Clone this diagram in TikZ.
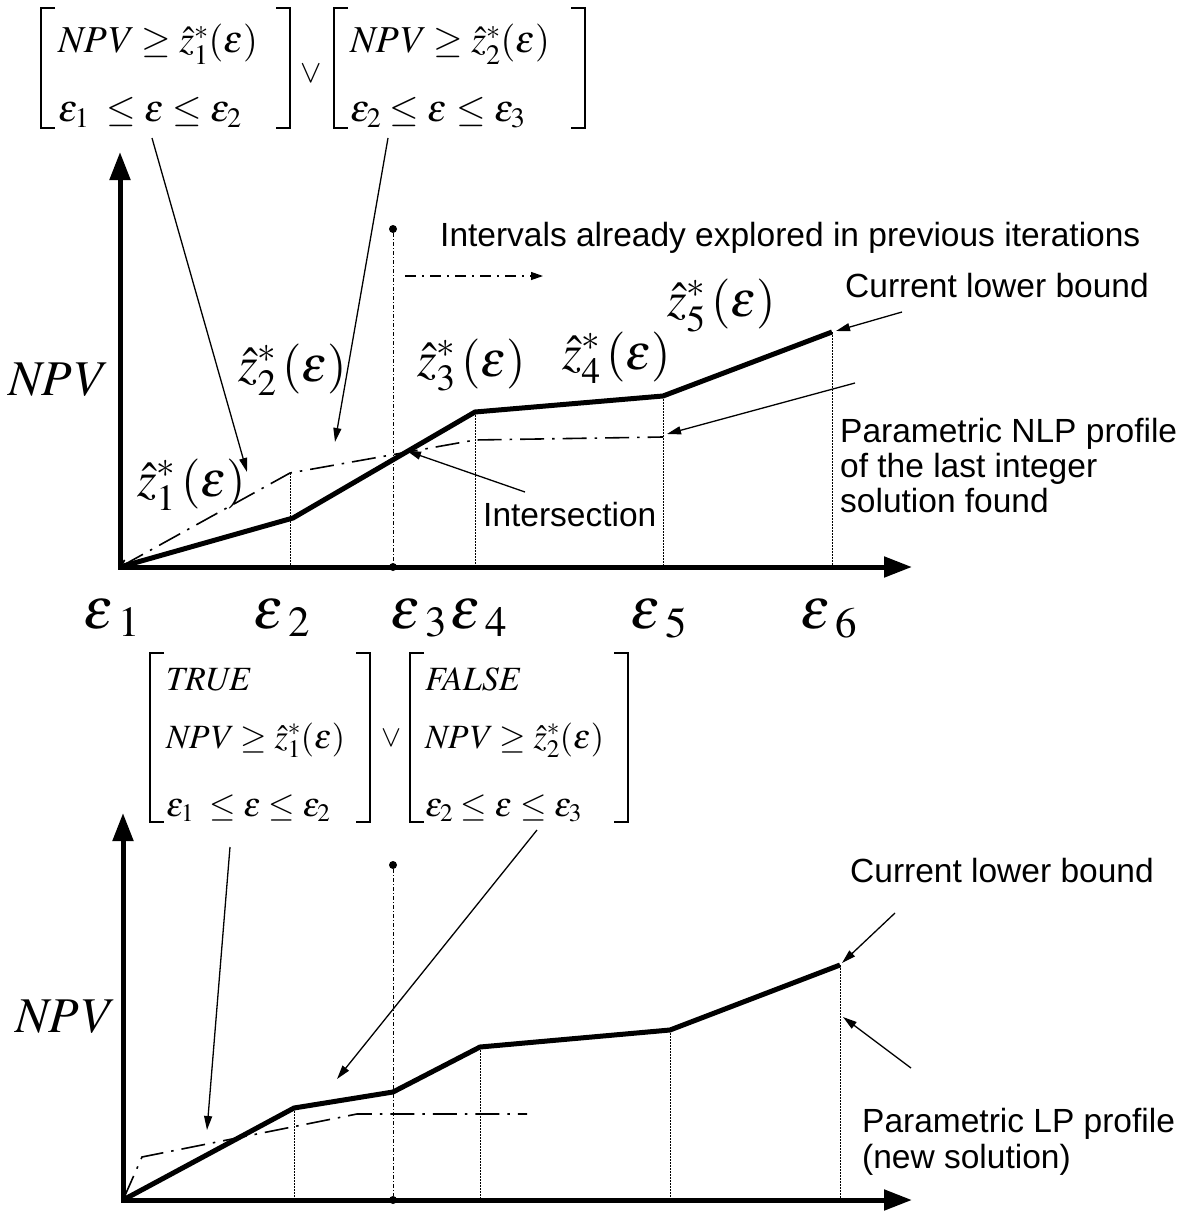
\documentclass[tikz,border=0pt]{standalone}
\usepackage{mathptmx}
\usepackage[no-math]{fontspec}
\newfontfamily\notefont{Liberation Sans}
\usetikzlibrary{arrows.meta}

\begin{document}
\begin{tikzpicture}[x=1pt,y=-1pt,line join=miter,
	axis/.style={line width=5pt,{Triangle[length=28pt,width=20pt]}-{Triangle[length=28pt,width=20pt]}},
	bound/.style={line width=5pt},
	profile/.style={line width=1.6pt,dash pattern=on 24pt off 8pt on 2.5pt off 8pt},
	guide/.style={line width=1pt,dash pattern=on 1.5pt off 1.5pt},
	split/.style={line width=1pt,dash pattern=on 4pt off 2pt on 1pt off 2pt},
	pointer/.style={line width=1.3pt,-{Triangle[length=14pt,width=8pt]}},
	brk/.style={line width=2.5pt},
	dot/.style={circle,fill=black,minimum size=8pt,inner sep=0pt},
	note/.style={font=\notefont\fontsize{33.5}{36}\selectfont,anchor=base west,inner sep=0pt},
	zlab/.style={font=\fontsize{50}{56}\selectfont,anchor=base west,inner sep=0pt},
	elab/.style={font=\fontsize{58}{62}\selectfont,anchor=base west,inner sep=0pt},
	cond/.style={font=\fontsize{38}{42}\selectfont,anchor=base west,inner sep=0pt},
	condsm/.style={font=\fontsize{34}{38}\selectfont,anchor=base west,inner sep=0pt}]
	\useasboundingbox (0,0) rectangle (1191,1212);

	% upper picture
	\draw[brk] (55,8)  -| (41,128)  -- (55,128);
	\draw[brk] (276,8) -| (290,128) -- (276,128);
	\draw[brk] (348,8) -| (334,128) -- (348,128);
	\draw[brk] (571,8) -| (585,128) -- (571,128);
	\path (58,53)  node[cond] (c1a) {$\mathit{NPV}\geq\hat{z}^{*}_{1}(\varepsilon)$};
	\path (58,122) node[cond] (c1b) {$\varepsilon_{1}\;\leq\varepsilon\leq\varepsilon_{2}$};
	\path (350,53)  node[cond] (c2a) {$\mathit{NPV}\geq\hat{z}^{*}_{2}(\varepsilon)$};
	\path (350,122) node[cond] (c2b) {$\varepsilon_{2}\leq\varepsilon\leq\varepsilon_{3}$};
	\path (311,74) node[font=\fontsize{32}{34}\selectfont] (or1) {$\vee$};

	\path (120,567) coordinate (o1) (120,152) coordinate (y1) (912,567) coordinate (x1);
	\draw[axis] (y1) -- (o1) -- (x1);
	\draw[profile,{Straight Barb[length=6pt,width=8pt]}-] (o1) -- (290,473) coordinate (p12) -- (475,440) coordinate (p14) -- (663,437) coordinate (p15);
	\draw[bound] (o1) -- (293,518) coordinate (l12) -- (475,412) coordinate (l14) -- (663,396) coordinate (l15) -- (832,332) coordinate (l16);
	\draw[guide] (p12) -- (p12 |- o1);
	\draw[guide] (l14) -- (l14 |- o1);
	\draw[guide] (l15) -- (l15 |- o1);
	\draw[guide] (l16) -- (l16 |- o1);
	\path (393,229) node[dot] (s1t) {} (393,567) node[dot] (s1b) {};
	\draw[split] (s1t) -- (s1b);
	\path (407,451) coordinate (ix);

	\path (8,395)   node[zlab] (npv1) {$\mathit{NPV}$};
	\path (137,496) node[zlab] (z1) {$\hat{z}^{*}_{1}\,(\varepsilon)$};
	\path (238,381) node[zlab] (z2) {$\hat{z}^{*}_{2}\,(\varepsilon)$};
	\path (417,376) node[zlab] (z3) {$\hat{z}^{*}_{3}\,(\varepsilon)$};
	\path (562,369) node[zlab] (z4) {$\hat{z}^{*}_{4}\,(\varepsilon)$};
	\path (667,316) node[zlab] (z5) {$\hat{z}^{*}_{5}\,(\varepsilon)$};
	\path (83,628)  node[elab] (e1) {$\varepsilon_{\;1}$};
	\path (253,628) node[elab] (e2) {$\varepsilon_{\;2}$};
	\path (390,628) node[elab] (e3) {$\varepsilon_{\;3}$};
	\path (450,628) node[elab] (e4) {$\varepsilon_{\;4}$};
	\path (630,628) node[elab] (e5) {$\varepsilon_{\;5}$};
	\path (800,628) node[elab] (e6) {$\varepsilon_{\;6}$};

	\path (440,246) node[note] (intv) {Intervals already explored in previous iterations};
	\path (845,297) node[note] (lb1)  {Current lower bound};
	\path (840,442) node[note] (nlp1) {Parametric NLP profile};
	\path (840,477) node[note] (nlp2) {of the last integer};
	\path (840,512) node[note] (nlp3) {solution found};
	\path (483,526) node[note] (ixt)  {Intersection};

	\path (405,276) coordinate (iv1) (543,276) coordinate (iv2);
	\draw[line width=1.2pt,dash pattern=on 11pt off 6pt on 2pt off 6pt,-{Triangle[length=12pt,width=8pt]}] (iv1) -- (iv2);
	\path (152,138) coordinate (a1) (388,138) coordinate (a2) (525,492) coordinate (a3) (902,312) coordinate (a4) (855,383) coordinate (a5);
	\path (247,472) coordinate (t1) (335,442) coordinate (t2) (836,331) coordinate (t4) (667,434) coordinate (t5);
	\draw[pointer] (a1) -- (t1);
	\draw[pointer] (a2) -- (t2);
	\draw[pointer] (a3) -- (ix);
	\draw[pointer] (a4) -- (t4);
	\draw[pointer] (a5) -- (t5);

	% lower picture
	\draw[brk] (164,653) -| (150,822) -- (164,822);
	\draw[brk] (356,653) -| (370,822) -- (356,822);
	\draw[brk] (424,653) -| (410,822) -- (424,822);
	\draw[brk] (614,653) -| (628,822) -- (614,822);
	\path (166,690) node[condsm] (d1a) {$\mathit{TRUE}$};
	\path (166,748) node[condsm] (d1b) {$\mathit{NPV}\geq\hat{z}^{*}_{1}(\varepsilon)$};
	\path (166,816) node[condsm] (d1c) {$\varepsilon_{1}\;\leq\varepsilon\leq\varepsilon_{2}$};
	\path (425,690) node[condsm] (d2a) {$\mathit{FALSE}$};
	\path (425,748) node[condsm] (d2b) {$\mathit{NPV}\geq\hat{z}^{*}_{2}(\varepsilon)$};
	\path (425,816) node[condsm] (d2c) {$\varepsilon_{2}\leq\varepsilon\leq\varepsilon_{3}$};
	\path (391,738) node[font=\fontsize{30}{32}\selectfont] (or2) {$\vee$};

	\path (123,1200) coordinate (o2) (123,813) coordinate (y2) (912,1200) coordinate (x2);
	\draw[axis] (y2) -- (o2) -- (x2);
	\draw[profile,{Straight Barb[length=6pt,width=8pt]}-] (o2) -- (142,1157) -- (357,1114) coordinate (q13) -- (527,1114) coordinate (q14);
	\draw[bound] (o2) -- (294,1108) coordinate (m12) -- (393,1092) coordinate (m13) -- (480,1047) coordinate (m14) -- (670,1030) coordinate (m15) -- (840,965) coordinate (m16);
	\draw[guide] (m12) -- (m12 |- o2);
	\draw[guide] (m14) -- (m14 |- o2);
	\draw[guide] (m15) -- (m15 |- o2);
	\draw[guide] (m16) -- (m16 |- o2);
	\path (393,865) node[dot] (s2t) {} (393,1200) node[dot] (s2b) {};
	\draw[split] (s2t) -- (s2b);

	\path (15,1032) node[zlab] (npv2) {$\mathit{NPV}$};
	\path (850,882)  node[note] (lb2) {Current lower bound};
	\path (862,1132) node[note] (lp1) {Parametric LP profile};
	\path (862,1168) node[note] (lp2) {(new solution)};

	\path (230,847) coordinate (b1) (537,830) coordinate (b2) (895,913) coordinate (b3) (911,1068) coordinate (b4);
	\path (207,1130) coordinate (u1) (337,1079) coordinate (u2) (842,963) coordinate (u3) (843,1017) coordinate (u4);
	\draw[pointer] (b1) -- (u1);
	\draw[pointer] (b2) -- (u2);
	\draw[pointer] (b3) -- (u3);
	\draw[pointer] (b4) -- (u4);
\end{tikzpicture}
\end{document}
